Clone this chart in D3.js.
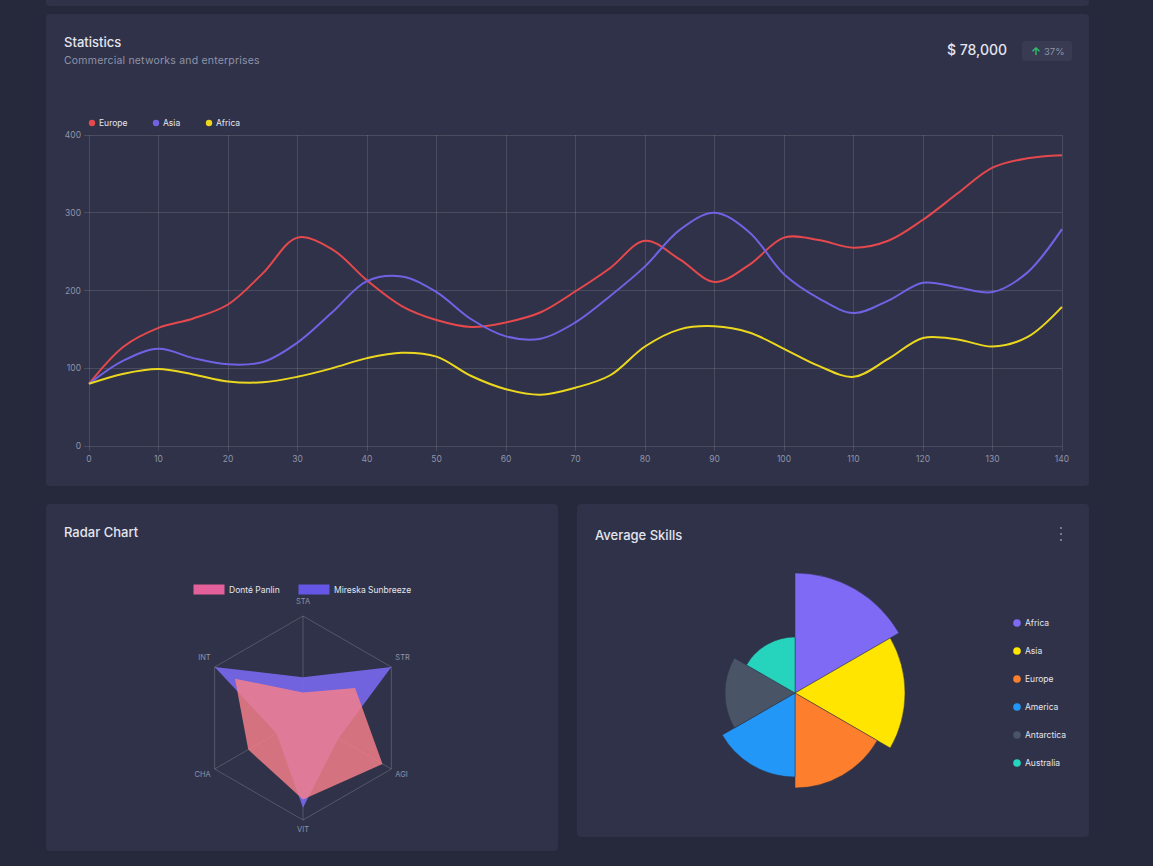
<!DOCTYPE html>
<html><head><meta charset="utf-8">
<script src="https://cdn.jsdelivr.net/npm/d3@7"></script>
<style>
html,body{margin:0;padding:0;background:#26283b;}
svg{display:block;font-family:Inter,"Noto Sans",sans-serif;}
</style></head>
<body>
<svg id="c" width="1153" height="866"></svg>
<script>
// ---------- DATA ----------
const xValues = [0,5,10,15,20,25,30,35,40,45,50,55,60,65,70,75,80,85,90,95,100,105,110,115,120,125,130,135,140];
const europe = [80,128,152,164,182,222,268,253,213,180,162,153,159,172,199,229,264,240,211,233,268,265,255,264,291,325,358,370,374];
const asia   = [80,110,125,113,105,108,133,172,212,218,198,163,141,138,159,193,231,278,300,275,221,190,171,187,210,204,198,223,279];
const africa = [80,93,99,92,83,82,89,100,113,120,115,90,73,66,75,91,128,150,154,146,125,103,89,112,139,137,128,140,179];
const lineSeries = ["Europe","Asia","Africa"];
const xTicks = [0,10,20,30,40,50,60,70,80,90,100,110,120,130,140];
const yTicks = [0,100,200,300,400];

const radarAxes = ["STA","STR","AGI","VIT","CHA","INT"];
const radarSeries = ["Donté Panlin","Mireska Sunbreeze"];
const donte   = [25,59,90,80,62,77];
const mireska = [40,100,40,88,30,100];

const polarLabels = ["Africa","Asia","Europe","America","Antarctica","Australia"];
const polarValues = [120,110,95,84,70,56];

// ---------- STYLE ----------
const lineColors = ["#e5484d","#6f63e3","#ecd71f"];
const polarColors = ["#7f6af6","#ffe500","#fd7e2c","#2397f7","#4a5467","#26d4bd"];
const textMain = "#e4e5ef", textSub = "#8f93a9", gridCol = "rgba(255,255,255,0.13)";

const svg = d3.select("#c");

// cards
const cards = [[46,-20,1043,26],[46,14,1043,472],[46,504,512,347],[577,504,512,333]];
svg.selectAll("rect.card").data(cards).join("rect")
  .attr("x",d=>d[0]).attr("y",d=>d[1]).attr("width",d=>d[2]).attr("height",d=>d[3])
  .attr("rx",4).attr("fill","#2f3248");

// ---------- TOP CARD ----------
svg.append("text").attr("x",64).attr("y",47).attr("fill",textMain).attr("font-size",13).attr("font-weight",500).text("Statistics");
svg.append("text").attr("x",64).attr("y",64).attr("fill",textSub).attr("font-size",10.5).attr("letter-spacing",0.2).text("Commercial networks and enterprises");
svg.append("text").attr("x",1007).attr("y",55).attr("text-anchor","end").attr("fill",textMain).attr("font-size",14).attr("font-weight",500).text("$ 78,000");
svg.append("rect").attr("x",1022).attr("y",41).attr("width",50).attr("height",20).attr("rx",3).attr("fill","#383b51");
svg.append("text").attr("x",1036).attr("y",55).attr("text-anchor","middle").attr("fill","#2fbf71").attr("font-size",11).attr("font-weight",700).text("↑");
svg.append("text").attr("x",1044).attr("y",54.5).attr("fill","#8e92a8").attr("font-size",9.5).text("37%");

const x = d3.scaleLinear().domain([0,140]).range([89,1062]);
const y = d3.scaleLinear().domain([0,400]).range([446,135]);

const g = svg.append("g");
g.selectAll("line.hg").data(yTicks).join("line")
  .attr("x1",84).attr("x2",x(140)).attr("y1",d=>y(d)).attr("y2",d=>y(d))
  .attr("stroke",gridCol).attr("shape-rendering","crispEdges");
g.selectAll("line.vg").data(xTicks).join("line")
  .attr("x1",d=>x(d)).attr("x2",d=>x(d)).attr("y1",y(400)).attr("y2",451)
  .attr("stroke",gridCol).attr("shape-rendering","crispEdges");
g.selectAll("text.yl").data(yTicks).join("text")
  .attr("x",81).attr("y",d=>y(d)+3).attr("text-anchor","end").attr("fill",textSub).attr("font-size",8.5).text(d=>d);
g.selectAll("text.xl").data(xTicks).join("text")
  .attr("x",d=>x(d)).attr("y",462).attr("text-anchor","middle").attr("fill",textSub).attr("font-size",8.5).text(d=>d);

const lineGen = d3.line().x((d,i)=>x(xValues[i])).y(d=>y(d)).curve(d3.curveCatmullRom.alpha(0.5));
[europe,asia,africa].forEach((s,i)=>{
  g.append("path").attr("d",lineGen(s)).attr("fill","none").attr("stroke",lineColors[i]).attr("stroke-width",2);
});
const legX = [92,156,209];
lineSeries.forEach((n,i)=>{
  svg.append("circle").attr("cx",legX[i]).attr("cy",123).attr("r",3.2).attr("fill",lineColors[i]);
  svg.append("text").attr("x",legX[i]+7).attr("y",126).attr("fill",textMain).attr("font-size",8.5).text(n);
});

// ---------- RADAR ----------
svg.append("text").attr("x",64).attr("y",537).attr("fill",textMain).attr("font-size",13).attr("font-weight",500).text("Radar Chart");
const rc = [303,718], R = 102;
const r = d3.scaleLinear().domain([0,100]).range([0,R]);
const ang = i => -Math.PI/2 + i*Math.PI/3;
const pt = (v,i) => [rc[0]+r(v)*Math.cos(ang(i)), rc[1]+r(v)*Math.sin(ang(i))];
const rg = svg.append("g");
rg.append("polygon").attr("points",radarAxes.map((a,i)=>pt(100,i).join(",")).join(" "))
  .attr("fill","none").attr("stroke","rgba(255,255,255,0.18)");
radarAxes.forEach((a,i)=>{
  const p = pt(100,i);
  rg.append("line").attr("x1",rc[0]).attr("y1",rc[1]).attr("x2",p[0]).attr("y2",p[1]).attr("stroke","rgba(255,255,255,0.18)");
});
const polyPts = vals => vals.map((v,i)=>pt(v,i).join(",")).join(" ");
rg.append("polygon").attr("points",polyPts(mireska)).attr("fill","#7466e6").attr("fill-opacity",0.95);
rg.append("polygon").attr("points",polyPts(donte)).attr("fill","#f47f8a").attr("fill-opacity",0.84);
const lblPos = [[0,-12,"middle"],[4,-7,"start"],[4,8,"start"],[0,12,"middle"],[-4,8,"end"],[-4,-7,"end"]];
radarAxes.forEach((a,i)=>{
  const p = pt(100,i);
  rg.append("text").attr("x",p[0]+lblPos[i][0]).attr("y",p[1]+lblPos[i][1])
    .attr("text-anchor",lblPos[i][2]).attr("fill",textSub).attr("font-size",7.5).text(a);
});
const rlx = [194,299], rcol=["#e3609a","#6656e6"];
radarSeries.forEach((n,i)=>{
  svg.append("rect").attr("x",rlx[i]).attr("y",585).attr("width",30).attr("height",9).attr("fill",rcol[i]).attr("stroke",rcol[i]);
  svg.append("text").attr("x",rlx[i]+35).attr("y",592.5).attr("fill",textMain).attr("font-size",8.5).text(n);
});

// ---------- POLAR AREA ----------
svg.append("text").attr("x",595).attr("y",540).attr("fill",textMain).attr("font-size",13).attr("font-weight",500).text("Average Skills");
[528,534,540].forEach(cy=>svg.append("circle").attr("cx",1061).attr("cy",cy).attr("r",1).attr("fill",textSub));
const pc = [795,693];
const pr = d3.scaleLinear().domain([0,120]).range([0,120]);
const arc = d3.arc().innerRadius(0);
const pg = svg.append("g").attr("transform",`translate(${pc[0]},${pc[1]})`);
polarValues.forEach((v,i)=>{
  pg.append("path").attr("d",arc({outerRadius:pr(v),startAngle:i*Math.PI/3,endAngle:(i+1)*Math.PI/3}))
    .attr("fill",polarColors[i]).attr("stroke","#2f3248").attr("stroke-width",0.5);
});
polarLabels.forEach((n,i)=>{
  const yy = 623 + i*28;
  svg.append("circle").attr("cx",1017).attr("cy",yy).attr("r",3.8).attr("fill",polarColors[i]);
  svg.append("text").attr("x",1025).attr("y",yy+3).attr("fill",textMain).attr("font-size",8.5).text(n);
});
</script>
</body></html>
